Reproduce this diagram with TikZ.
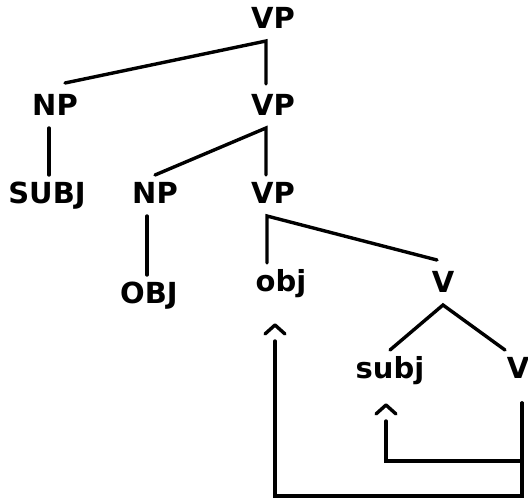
\documentclass[tikz,border=0pt]{standalone}
\usepackage{fontspec}
\setmainfont{DejaVu Sans}
\usetikzlibrary{
	positioning,
	arrows.meta
}

% open caret, set off from the end of the line
\pgfdeclarearrow{
	name=Hat,
	setup code={
		\pgfarrowssettipend{0pt}
		\pgfarrowssetlineend{-16pt}
		\pgfarrowssetbackend{-16pt}
		\pgfarrowshullpoint{0pt}{0pt}
	},
	drawing code={
		\pgfsetroundcap
		\pgfsetroundjoin
		\pgfpathmoveto{\pgfqpoint{-9pt}{10pt}}
		\pgfpathlineto{\pgfqpoint{0pt}{0pt}}
		\pgfpathlineto{\pgfqpoint{-9pt}{-10pt}}
		\pgfusepathqstroke
	}
}

\tikzset{
	cat/.style={anchor=base,inner sep=0pt,outer ysep=6pt,
		text height=22pt,text depth=7pt,font=\fontsize{29}{35}\selectfont\bfseries},
	branch/.style={line width=3.4pt,line cap=round},
	move/.style={line width=3.4pt,line cap=round,-Hat}
}

\begin{document}
\begin{tikzpicture}[x=1pt,y=-1pt]
		\useasboundingbox (0,0) rectangle (528,501);
		\draw
			node[cat] (vp0)  at (273,28)  {VP}
			node[cat] (np1)  at (55,115)  {NP}
			node[cat] (vp1)  at (273,115) {VP}
			node[cat] (subj) at (47,203)  {SUBJ}
			node[cat] (np2)  at (155,203) {NP}
			node[cat] (vp2)  at (273,203) {VP}
			node[cat] (obj)  at (149,303) {OBJ}
			node[cat] (objt) at (281,291) {obj}
			node[cat] (v1)   at (443,292) {V}
			node[cat] (subjt) at (390,378) {subj}
			node[cat] (v2)   at (518,378) {V}
		;
		% tree
		\draw[branch] ([xshift=10pt,yshift=4pt]np1.north) -- ([xshift=-7pt]vp0.south) -- ([xshift=-7pt,yshift=3pt]vp1.north);
		\draw[branch] ([xshift=-6pt]np1.south) -- ([xshift=-6pt]subj.north -| np1.south);
		\draw[branch] (np2.north) -- ([xshift=-7pt]vp1.south) -- ([xshift=-7pt]vp2.north);
		\draw[branch] ([xshift=-8pt]np2.south) -- ([xshift=-8pt]obj.north -| np2.south);
		\draw[branch] ([xshift=-6pt,yshift=4pt]v1.north) -- ([xshift=-6pt]vp2.south) -- ([xshift=-6pt]objt.north -| vp2.south);
		\draw[branch] (subjt.north) -- (v1.south) -- ([xshift=-13pt]v2.north);
		% movement
		\draw[move] ([xshift=4pt]v2.south) ++(0,12) -- ++(0,58) -| ([xshift=-4pt,yshift=-14pt]subjt.south);
		\draw[move] ([xshift=4pt]v2.south) ++(0,12) -- ++(0,93) -| ([xshift=-6pt,yshift=-21pt]objt.south);
	\end{tikzpicture}
\end{document}
